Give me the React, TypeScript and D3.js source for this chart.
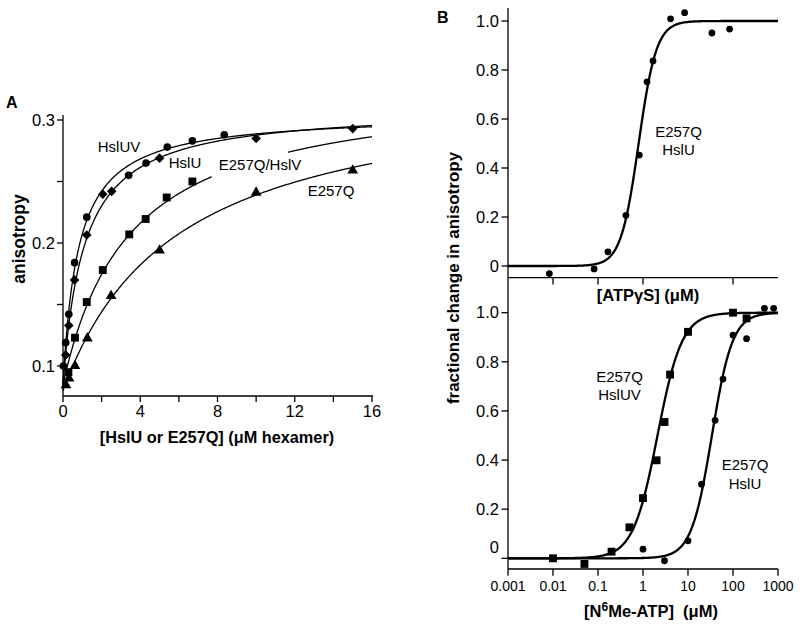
import React from 'react';
import * as d3 from 'd3';

const FONT = '"Liberation Sans", Arial, Helvetica, sans-serif';

// ---------- Panel A data ----------
const aXTicks = [0, 2, 4, 6, 8, 10, 12, 14, 16];
const aXTickLabels = [0, 4, 8, 12, 16];
const aYTicks = [0.1, 0.15, 0.2, 0.25, 0.3];
const aYTickLabels = [0.1, 0.2, 0.3];

const hsluvConc = [0.02, 0.14, 0.3, 0.6, 1.23, 3.4, 4.3, 5.4, 6.7, 8.35];
const hsluvAniso = [0.1, 0.119, 0.142, 0.184, 0.221, 0.255, 0.265, 0.278, 0.283, 0.288];
const hsluConc = [0.14, 0.3, 0.6, 1.23, 2.06, 2.52, 5.0, 10.0, 15.0];
const hsluAniso = [0.109, 0.133, 0.17, 0.2065, 0.2396, 0.242, 0.269, 0.285, 0.293];
const hslvConc = [0.28, 0.62, 1.23, 2.06, 3.43, 4.28, 5.37, 6.7];
const hslvAniso = [0.095, 0.123, 0.152, 0.178, 0.207, 0.2195, 0.237, 0.25];
const e257qConc = [0.15, 0.31, 0.62, 1.26, 2.49, 5.0, 10.0, 15.0];
const e257qAniso = [0.0845, 0.09, 0.1, 0.1225, 0.157, 0.194, 0.241, 0.259];

// hyperbolic fit parameters: [baseline, amplitude, Kd]
const fitHslUV = [0.085, 0.22, 0.8];
const fitHslU = [0.085, 0.225, 1.1];
const fitHslV = [0.085, 0.2452, 3.48];
const fitE257Q = [0.08, 0.2528, 5.9];
const hslvGap = [7.7, 11.65];

// ---------- Panel B data ----------
const bYTicks = [0, 0.2, 0.4, 0.6, 0.8, 1.0];
const bYTickLabels = ['0', '0.2', '0.4', '0.6', '0.8', '1.0'];
const bXTicks = [0.001, 0.01, 0.1, 1, 10, 100, 1000];
const bXTickLabels = ['0.001', '0.01', '0.1', '1', '10', '100', '1000'];
const bTopXTicks = [0.01, 0.1, 1, 100];

const atpConc = [0.0083, 0.082, 0.166, 0.418, 0.83, 1.23, 1.67, 4.1, 8.4, 34, 84];
const atpFrac = [-0.031, -0.012, 0.058, 0.207, 0.453, 0.752, 0.837, 1.009, 1.034, 0.951, 0.967];
const meUVConc = [0.01, 0.05, 0.2, 0.5, 1, 2, 3, 4, 10, 100, 200];
const meUVFrac = [0, -0.023, 0.027, 0.126, 0.245, 0.399, 0.555, 0.748, 0.922, 1.0, 0.977];
const meUConc = [1, 3, 10, 20, 40, 60, 100, 200, 500, 800];
const meUFrac = [0.037, -0.01, 0.071, 0.302, 0.562, 0.73, 0.909, 0.894, 1.018, 1.018];

// Hill fit parameters: [K, n]
const fitAtp = [0.8, 2.2];
const fitMeUV = [2.1, 1.6];
const fitMeU = [34, 1.9];

// ---------- scales ----------
const xA = d3.scaleLinear().domain([0, 16]).range([63, 372]);
const yA = d3.scaleLinear().domain([0.1, 0.3]).range([366, 120]);
const xB = d3.scaleLog().domain([0.001, 1000]).range([508, 778]);
const yBt = d3.scaleLinear().domain([0, 1]).range([266, 21]);
const yBb = d3.scaleLinear().domain([0, 1]).range([558.3, 312.7]);

const hyper = (p: number[]) => (x: number) => p[0] + (p[1] * x) / (p[2] + x);
const hill = (p: number[]) => (x: number) => Math.pow(x / p[0], p[1]) / (1 + Math.pow(x / p[0], p[1]));

function curveA(p: number[], from: number, to: number) {
  const f = hyper(p);
  const xs = d3.range(0, 401).map((i) => from + ((to - from) * i) / 400);
  return d3.line<number>().x((x) => xA(x)).y((x) => yA(f(x)))(xs) || '';
}
function curveB(p: number[], y: d3.ScaleLinear<number, number>) {
  const f = hill(p);
  const xs = d3.range(0, 601).map((i) => Math.pow(10, -3 + (6 * i) / 600));
  return d3.line<number>().x((x) => xB(x)).y((x) => y(f(x)))(xs) || '';
}

const sym = (type: d3.SymbolType, size: number) => d3.symbol().type(type).size(size)() || '';
const circlePath = sym(d3.symbolCircle, 46);
const squarePath = sym(d3.symbolSquare, 62);
const diamondPath = sym(d3.symbolSquare, 46);
const trianglePath = sym(d3.symbolTriangle, 50);
const smallCircle = sym(d3.symbolCircle, 36);

function Marks({ xs, ys, sx, sy, d, rot = 0 }: any) {
  return (
    <g>
      {xs.map((x: number, i: number) => (
        <path key={i} d={d} fill="#000" transform={`translate(${sx(x)},${sy(ys[i])}) rotate(${rot})`} />
      ))}
    </g>
  );
}

export default function App() {
  const tick = { stroke: '#000', strokeWidth: 1.3 };
  return (
    <svg width={800} height={625} style={{ position: 'absolute', left: 0, top: 0, background: '#fff' }} fontFamily={FONT}>
      <rect width={800} height={625} fill="#fff" />
      {/* ---------------- Panel A ---------------- */}
      <text x={6} y={108} fontSize={16} fontWeight="bold">A</text>
      <line x1={63} x2={63} y1={115} y2={396} {...tick} />
      <line x1={63} x2={373} y1={396} y2={396} {...tick} />
      {aYTicks.map((v) => (
        <line key={v} x1={57} x2={63} y1={yA(v)} y2={yA(v)} {...tick} />
      ))}
      {aYTickLabels.map((v) => (
        <text key={v} x={55} y={yA(v)} dy="0.35em" fontSize={16.5} textAnchor="end">{v.toFixed(1)}</text>
      ))}
      {aXTicks.map((v) => (
        <line key={v} x1={xA(v)} x2={xA(v)} y1={396} y2={402} {...tick} />
      ))}
      {aXTickLabels.map((v) => (
        <text key={v} x={xA(v)} y={411} dy="0.35em" fontSize={16.5} textAnchor="middle">{v}</text>
      ))}
      <text x={217} y={437} dy="0.35em" fontSize={16.3} fontWeight="bold" textAnchor="middle">[HslU or E257Q] (μM hexamer)</text>
      <text transform="translate(19,239) rotate(-90)" dy="0.35em" fontSize={17.5} fontWeight="bold" textAnchor="middle">anisotropy</text>

      <g fill="none" stroke="#000" strokeWidth={1.3}>
        <path d={curveA(fitHslUV, 0, 16)} />
        <path d={curveA(fitHslU, 0, 16)} />
        <path d={curveA(fitHslV, 0, hslvGap[0])} />
        <path d={curveA(fitHslV, hslvGap[1], 16)} />
        <path d={curveA(fitE257Q, 0, 16)} />
      </g>
      <Marks xs={hsluvConc} ys={hsluvAniso} sx={xA} sy={yA} d={circlePath} />
      <Marks xs={hsluConc} ys={hsluAniso} sx={xA} sy={yA} d={diamondPath} rot={45} />
      <Marks xs={hslvConc} ys={hslvAniso} sx={xA} sy={yA} d={squarePath} />
      <Marks xs={e257qConc} ys={e257qAniso} sx={xA} sy={yA} d={trianglePath} />

      <text x={119} y={147} dy="0.35em" fontSize={15} textAnchor="middle">HslUV</text>
      <text x={185} y={163} dy="0.35em" fontSize={15} textAnchor="middle">HslU</text>
      <text x={260} y={165} dy="0.35em" fontSize={15} textAnchor="middle">E257Q/HslV</text>
      <text x={331} y={191} dy="0.35em" fontSize={15} textAnchor="middle">E257Q</text>

      {/* ---------------- Panel B ---------------- */}
      <text x={437} y={23} fontSize={16} fontWeight="bold">B</text>
      <line x1={508} x2={508} y1={8} y2={569} {...tick} />
      {/* top */}
      <line x1={508} x2={778} y1={277.7} y2={277.7} {...tick} />
      {bYTicks.map((v, i) => (
        <g key={'t' + v}>
          <line x1={501.5} x2={508} y1={yBt(v)} y2={yBt(v)} {...tick} />
          <text x={499} y={yBt(v)} dy="0.35em" fontSize={16.5} textAnchor="end">{bYTickLabels[i]}</text>
        </g>
      ))}
      {bTopXTicks.map((v) => (
        <line key={'tx' + v} x1={xB(v)} x2={xB(v)} y1={277.7} y2={284.5} {...tick} />
      ))}
      <path d={curveB(fitAtp, yBt)} fill="none" stroke="#000" strokeWidth={2.3} />
      <Marks xs={atpConc} ys={atpFrac} sx={xB} sy={yBt} d={smallCircle} />
      <text x={678.5} y={131.5} dy="0.35em" fontSize={15} textAnchor="middle">E257Q</text>
      <text x={678.5} y={150} dy="0.35em" fontSize={15} textAnchor="middle">HslU</text>
      <text x={648} y={295} dy="0.35em" fontSize={16.5} fontWeight="bold" textAnchor="middle">[ATPγS] (μM)</text>

      {/* bottom */}
      <line x1={508} x2={778} y1={569} y2={569} {...tick} />
      {bYTicks.map((v, i) => (
        <g key={'b' + v}>
          <line x1={501.5} x2={508} y1={yBb(v)} y2={yBb(v)} {...tick} />
          <text x={499} y={v === 0 ? 547 : yBb(v)} dy="0.35em" fontSize={16.5} textAnchor="end">{bYTickLabels[i]}</text>
        </g>
      ))}
      {bXTicks.map((v, i) => (
        <g key={'bx' + v}>
          <line x1={xB(v)} x2={xB(v)} y1={569} y2={575.7} {...tick} />
          <text x={xB(v)} y={586} dy="0.35em" fontSize={14} textAnchor="middle">{bXTickLabels[i]}</text>
        </g>
      ))}
      <path d={curveB(fitMeUV, yBb)} fill="none" stroke="#000" strokeWidth={2.3} />
      <path d={curveB(fitMeU, yBb)} fill="none" stroke="#000" strokeWidth={2.3} />
      <Marks xs={meUVConc} ys={meUVFrac} sx={xB} sy={yBb} d={squarePath} />
      <Marks xs={meUConc} ys={meUFrac} sx={xB} sy={yBb} d={smallCircle} />
      <text x={619.5} y={377} dy="0.35em" fontSize={15} textAnchor="middle">E257Q</text>
      <text x={619.5} y={395} dy="0.35em" fontSize={15} textAnchor="middle">HslUV</text>
      <text x={745} y={465} dy="0.35em" fontSize={15} textAnchor="middle">E257Q</text>
      <text x={745} y={483.5} dy="0.35em" fontSize={15} textAnchor="middle">HslU</text>
      <text x={651} y={611} dy="0.35em" fontSize={16.5} fontWeight="bold" textAnchor="middle" xmlSpace="preserve">
        <tspan>[N</tspan>
        <tspan dy="-6" fontSize={12}>6</tspan>
        <tspan dy="6">{'Me-ATP]\u00A0\u00A0(μM)'}</tspan>
      </text>
      <text transform="translate(453,278) rotate(-90)" dy="0.35em" fontSize={17} fontWeight="bold" textAnchor="middle">fractional change in anisotropy</text>
    </svg>
  );
}
